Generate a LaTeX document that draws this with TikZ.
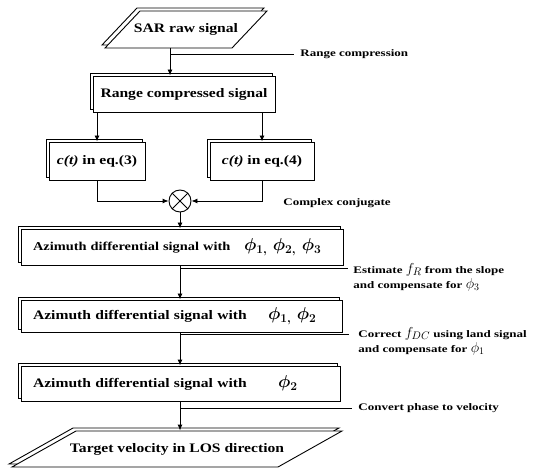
\documentclass[tikz,border=0pt]{standalone}
\usepackage{amsmath}
\usepackage{fontspec}
\setmainfont{Liberation Serif}
\newfontfamily\boxfont[FakeStretch=1.2]{Liberation Serif}
\newfontfamily\labfont[FakeStretch=1.3]{Liberation Serif}
\usetikzlibrary{arrows.meta,shadows}
\begin{document}
\begin{tikzpicture}[x=1pt,y=-1pt, line width=0.9pt,
  box/.style={draw, fill=white, rectangle, inner sep=0pt,
    font=\boxfont\bfseries\fontsize{13}{15}\selectfont,
    copy shadow={shadow xshift=-3pt,shadow yshift=3pt,draw=black,fill=white}},
  para/.style={draw, fill=white, line join=miter},
  txt/.style={inner sep=0pt, font=\boxfont\bfseries\fontsize{13}{15}\selectfont},
  lab/.style={font=\labfont\bfseries\fontsize{10}{15}\selectfont, inner sep=0pt, align=left},
  arr/.style={-{Latex[length=6pt,width=5pt]}}
]
\useasboundingbox[fill=white] (0,0) rectangle (538,470);

% SAR raw signal parallelogram
\draw[para] (137,8) -- (264,8) -- (229,45) -- (102,45) -- cycle;
\draw[para] (140,11) -- (267,11) -- (232,48) -- (105,48) -- cycle;
\node[txt, minimum height=37pt] (sar) at (186,29.5) {SAR raw signal};
\coordinate (sarout) at (170,48);

% Range compressed signal
\node[box, minimum width=182pt, minimum height=36pt] (rc) at (184,94) {Range compressed signal};

% c(t) boxes
\node[box, minimum width=96pt, minimum height=38pt] (c3) at (97,161) {\textit{c(t)} in eq.(3)};
\node[box, minimum width=104pt, minimum height=38pt] (c4) at (262,161) {\textit{c(t)} in eq.(4)};

% multiplier
\node[draw, fill=white, circle, minimum size=22pt, inner sep=0pt] (ot) at (180,201) {};
\draw (ot.north west) -- (ot.south east) (ot.north east) -- (ot.south west);

% Azimuth boxes
\node[box, minimum width=322pt, minimum height=36pt, text width=298pt, align=left,
      font=\boxfont\bfseries\fontsize{12}{14}\selectfont] (az1) at (182,247)
  {\makebox[211pt][l]{Azimuth differential signal with}{\fontsize{17}{17}\selectfont\boldmath$\phi_{1,}\;\phi_{2,}\;\phi_{3}$}};
\node[box, minimum width=321pt, minimum height=32pt, text width=297pt, align=left] (az2) at (181.5,316)
  {\makebox[235pt][l]{Azimuth differential signal with}{\fontsize{17}{17}\selectfont\boldmath$\phi_{1,}\;\phi_{2}$}};
\node[box, minimum width=319pt, minimum height=35pt, text width=295pt, align=left] (az3) at (180.5,383.5)
  {\makebox[245pt][l]{Azimuth differential signal with}{\fontsize{17}{17}\selectfont\boldmath$\phi_{2}$}};

% Target velocity parallelogram
\draw[para] (73,428) -- (339,428) -- (275,464) -- (9,464) -- cycle;
\draw[para] (76,431) -- (342,431) -- (278,467) -- (12,467) -- cycle;
\node[txt, minimum height=36pt] (tg) at (177,449) {Target velocity in LOS direction};

% side labels
\node[lab, anchor=west] (l1) at (300,54) {Range compression};
\node[lab, anchor=west] (l2) at (283,203) {Complex conjugate};
\node[lab, anchor=north west] (l3) at (353,263)
  {Estimate {\fontsize{15}{15}\selectfont$f_{R}$} from the slope\\and compensate for {\fontsize{14}{14}\selectfont$\phi_{3}$}};
\node[lab, anchor=north west] (l4) at (358,327)
  {Correct {\fontsize{15}{15}\selectfont$f_{DC}$} using land signal\\and compensate for {\fontsize{14}{14}\selectfont$\phi_{1}$}};
\node[lab, anchor=west] (l5) at (358,408) {Convert phase to velocity};

\coordinate (e1) at ([xshift=-6pt]l1.west);
\coordinate (e3) at ([xshift=-5pt,yshift=-5pt]l3.north west);
\coordinate (e4) at ([xshift=-9pt,yshift=-7pt]l4.north west);
\coordinate (e5) at ([xshift=-6pt]l5.west);

% connectors
\draw[arr] (sarout) -- (sarout |- rc.north);
\draw (sarout |- e1) -- (e1);
\draw[arr] (c3.north |- rc.south) -- (c3.north);
\draw[arr] (c4.north |- rc.south) -- (c4.north);
\draw[arr] (c3.south) |- (ot.west);
\draw[arr] (c4.south) |- (ot.east);
\draw[arr] (ot.south) -- (ot.south |- az1.north);
\draw[arr] (ot.south |- az1.south) -- (ot.south |- az2.north);
\draw (ot.south |- e3) -- (e3);
\draw[arr] (ot.south |- az2.south) -- (ot.south |- az3.north);
\draw (ot.south |- e4) -- (e4);
\draw[arr] (ot.south |- az3.south) -- (ot.south |- tg.north);
\draw (ot.south |- e5) -- (e5);
\end{tikzpicture}
\end{document}
